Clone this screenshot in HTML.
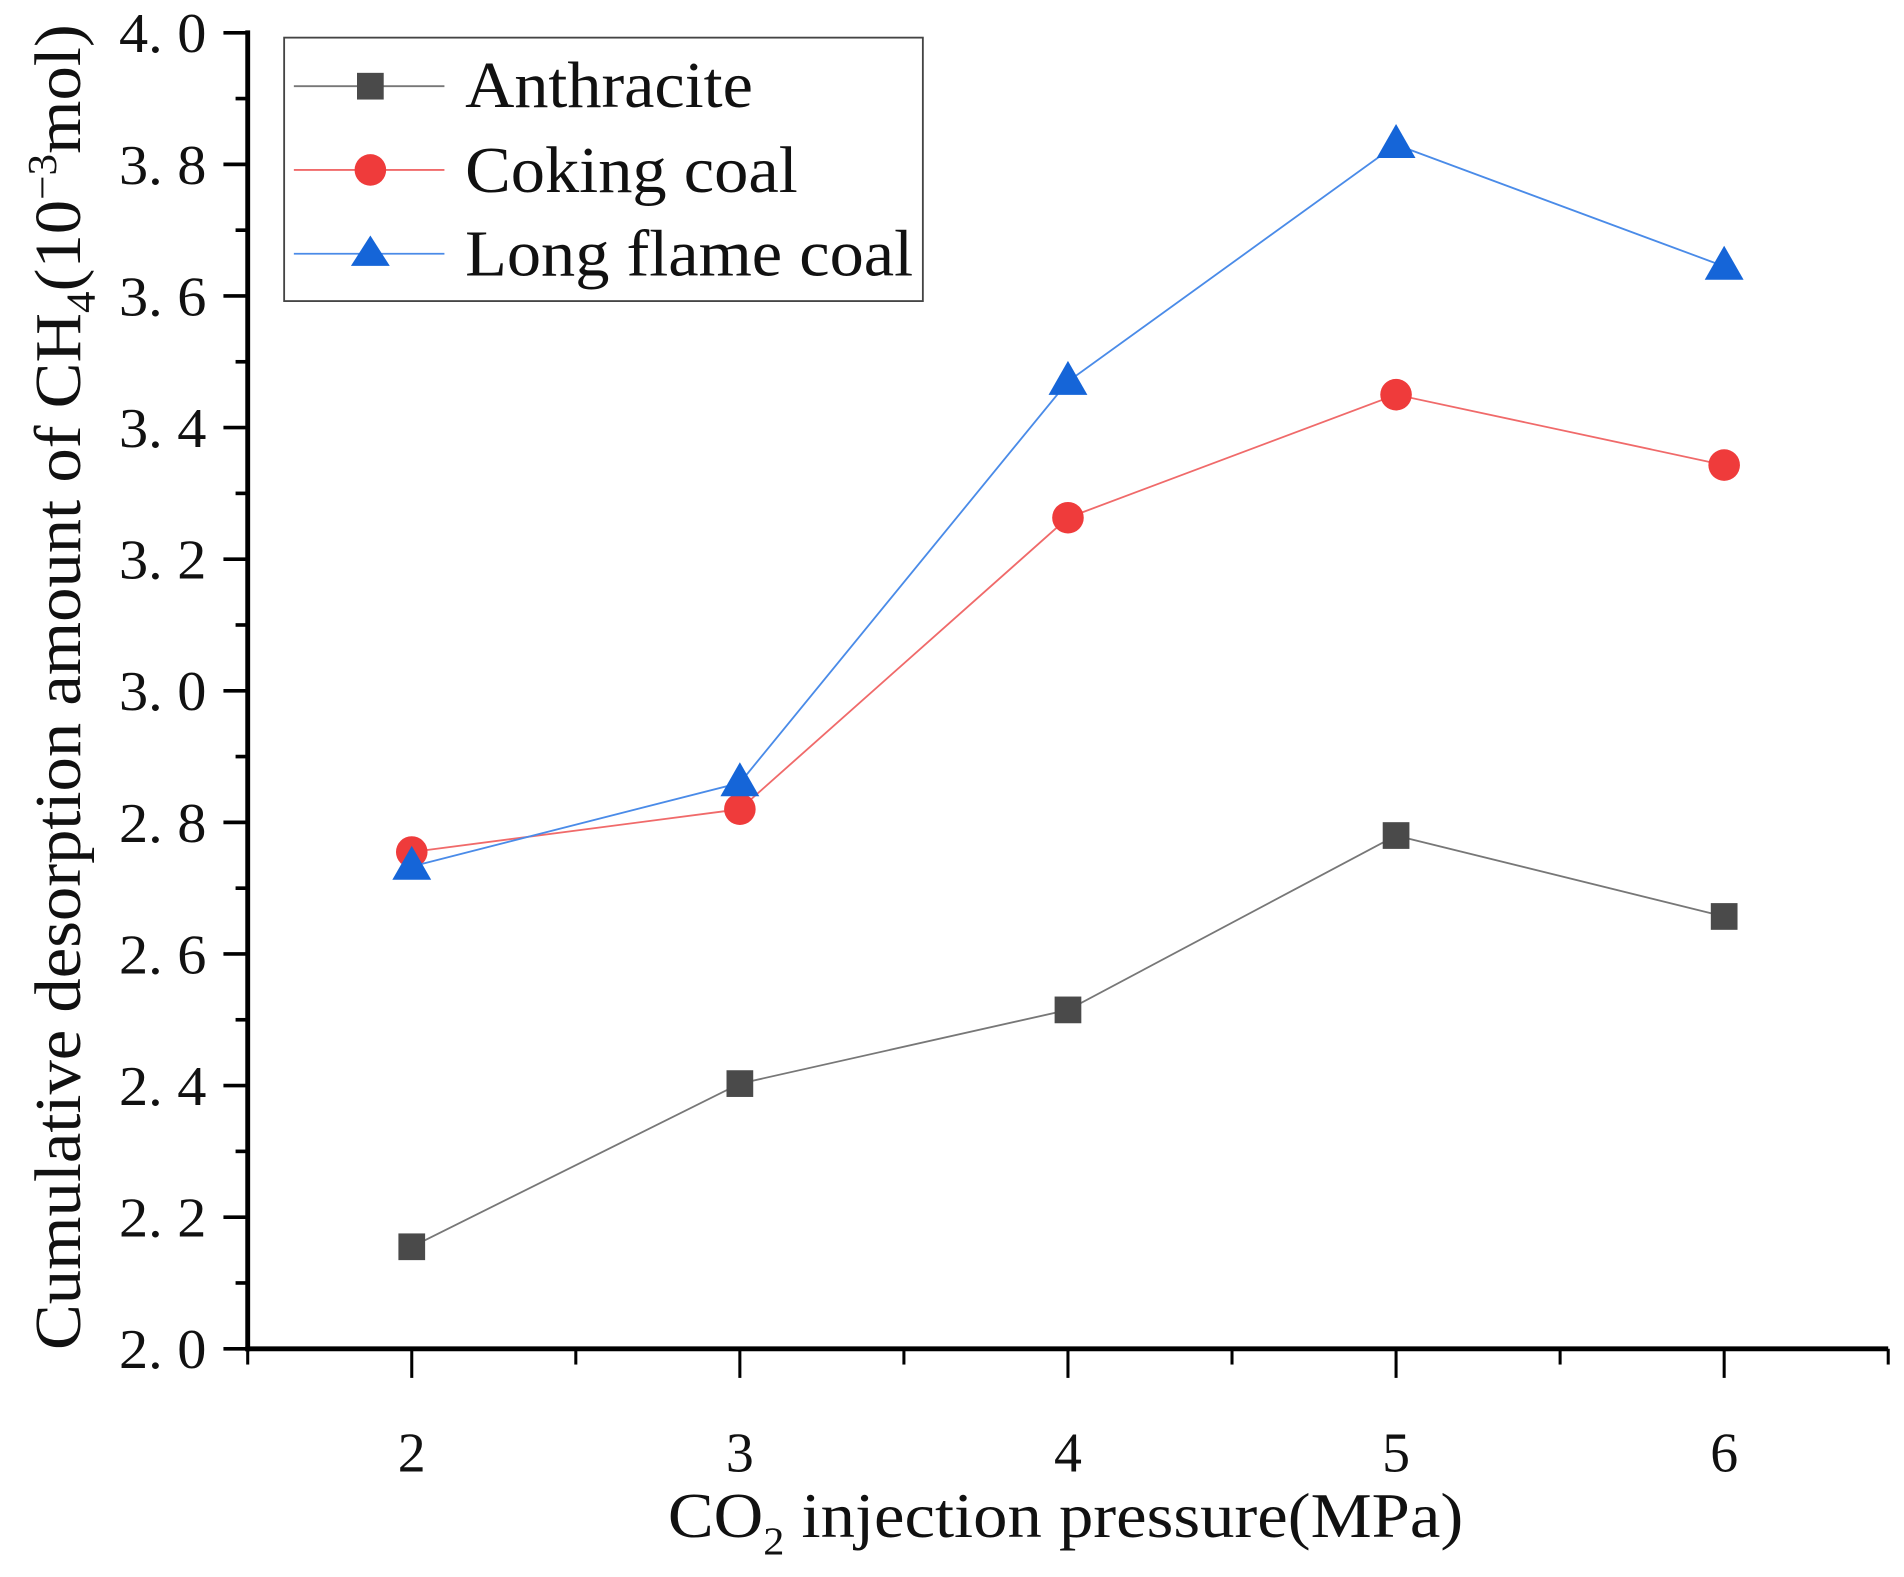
<!DOCTYPE html>
<html><head><meta charset="utf-8"><style>
html,body{margin:0;padding:0;background:#fff;}
svg{display:block;}
text{font-family:"Liberation Serif",serif;fill:#111;}
</style></head><body>
<svg id="chart" width="1904" height="1577" viewBox="0 0 1568 1299" preserveAspectRatio="none" xmlns="http://www.w3.org/2000/svg">
<g id="axes"></g>
<g id="series"></g>
<g>
<rect x="234" y="31" width="526" height="217" fill="#fff" stroke="#444" stroke-width="1.5"/>
<g>
<line x1="242" y1="71" x2="366" y2="71" stroke="#777" stroke-width="1.5"/>
<rect x="294" y="60" width="22" height="22" fill="#4a4a4a"/>
<text x="383" y="88" font-size="54" textLength="237" lengthAdjust="spacingAndGlyphs">Anthracite</text></g>
<g>
<line x1="242" y1="140" x2="366" y2="140" stroke="#f06a6a" stroke-width="1.5"/>
<circle cx="305" cy="140" r="13" fill="#ef3b3b"/>
<text x="383" y="158" font-size="54" textLength="274" lengthAdjust="spacingAndGlyphs">Coking coal</text></g>
<g>
<line x1="242" y1="209" x2="366" y2="209" stroke="#4a8be8" stroke-width="1.5"/>
<polygon points="305,194 321,219 289,219" fill="#1565d8"/>
<text x="383" y="227" font-size="54" textLength="369" lengthAdjust="spacingAndGlyphs">Long flame coal</text></g>
</g>
<text x="550" y="1266" font-size="52" textLength="655" lengthAdjust="spacingAndGlyphs">CO<tspan font-size="32" dy="14">2</tspan><tspan dy="-14"> injection pressure(MPa)</tspan></text>
<text transform="translate(66,1112) rotate(-90)" x="0" y="0" font-size="54" textLength="1092" lengthAdjust="spacingAndGlyphs">Cumulative desorption amount of CH<tspan font-size="34" dy="12">4</tspan><tspan dy="-12">(10</tspan><tspan font-size="34" dy="-20">−3</tspan><tspan dy="20">mol)</tspan></text>
</svg>
<script>
const categories=[2,3,4,5,6];
const anthracite=[2.155,2.403,2.515,2.78,2.657];
const cokingCoal=[2.755,2.82,3.263,3.45,3.343];
const longFlameCoal=[2.733,2.86,3.47,3.83,3.645];
const yTickLabels=["2. 0","2. 2","2. 4","2. 6","2. 8","3. 0","3. 2","3. 4","3. 6","3. 8","4. 0"];
const yTickValues=[2.0,2.2,2.4,2.6,2.8,3.0,3.2,3.4,3.6,3.8,4.0];
const xTickLabels=["2","3","4","5","6"];

const NS="http://www.w3.org/2000/svg";
const X0=204,X1=1555,Y0=1111,Y1=27;
function sx(v){return X0+(v-1.5)/(6.5-1.5)*(X1-X0);}
function sy(v){return Y0-(v-2.0)/(4.0-2.0)*(Y0-Y1);}
function mk(tag,attrs,parent){const e=document.createElementNS(NS,tag);for(const k in attrs)e.setAttribute(k,attrs[k]);parent.appendChild(e);return e;}
const ax=document.getElementById('axes');
let l=mk('line',{x1:X0,y1:Y1-2,x2:X0,y2:Y0+2,stroke:'#000','stroke-width':4},ax);


l=mk('line',{x1:X0-2,y1:Y0,x2:X1,y2:Y0,stroke:'#000','stroke-width':4},ax);


for(let i=0;i<yTickValues.length;i++){
  const y=sy(yTickValues[i]);
  mk('line',{x1:X0-20,y1:y,x2:X0,y2:y,stroke:'#000','stroke-width':3},ax);
  const t=mk('text',{x:X0-34,y:y+16,'font-size':46,'text-anchor':'end',fill:'#333',textLength:72,lengthAdjust:'spacingAndGlyphs'},ax);
  t.textContent=yTickLabels[i];
  
  
  if(i<yTickValues.length-1){const ym=sy(yTickValues[i]+0.1);mk('line',{x1:X0-10,y1:ym,x2:X0,y2:ym,stroke:'#000','stroke-width':3},ax);}
}
for(let i=0;i<categories.length;i++){
  const x=sx(categories[i]);
  mk('line',{x1:x,y1:Y0,x2:x,y2:Y0+24,stroke:'#000','stroke-width':2.5},ax);
  const t=mk('text',{x:x,y:Y0+101,'font-size':46,'text-anchor':'middle',fill:'#333'},ax);
  t.textContent=xTickLabels[i];
  
  
}
[1.5,2.5,3.5,4.5,5.5,6.5].forEach(v=>{const x=sx(v);mk('line',{x1:x,y1:Y0,x2:x,y2:Y0+13,stroke:'#000','stroke-width':2.5},ax);});

const sg=document.getElementById('series');
function drawSeries(vals,color,markerColor,kind,name){
  const g=mk('g',{},sg);
  
  
  const pts=vals.map((v,i)=>sx(categories[i])+','+sy(v)).join(' ');
  const pl=mk('polyline',{points:pts,fill:'none',stroke:color,'stroke-width':1.5},g);
  
  
  vals.forEach((v,i)=>{
    const x=sx(categories[i]),y=sy(v);let m;
    if(kind==='square')m=mk('rect',{x:x-11,y:y-11,width:22,height:22,fill:markerColor},g);
    else if(kind==='circle')m=mk('circle',{cx:x,cy:y,r:13,fill:markerColor},g);
    else m=mk('polygon',{points:(x)+','+(y-17)+' '+(x+16)+','+(y+11)+' '+(x-16)+','+(y+11),fill:markerColor},g);
    
    
  });
}
drawSeries(anthracite,'#777','#4a4a4a','square','anthracite');
drawSeries(cokingCoal,'#f06a6a','#ef3b3b','circle','coking-coal');
drawSeries(longFlameCoal,'#4a8be8','#1565d8','triangle','long-flame-coal');
</script>
</body></html>
